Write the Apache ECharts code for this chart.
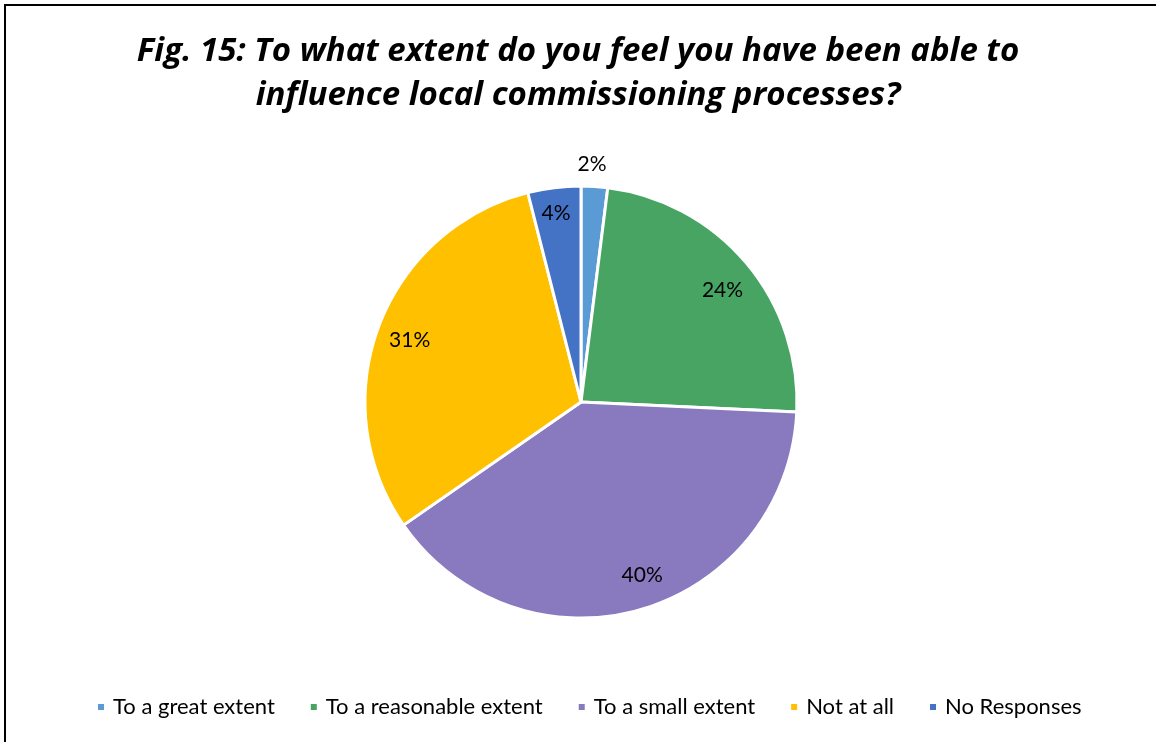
<!DOCTYPE html>
<html>
<head>
<meta charset="utf-8">
<script src="https://cdn.jsdelivr.net/npm/echarts@6/dist/echarts.min.js"></script>
<style>
  html, body { margin: 0; padding: 0; background: #fff; }
  #chart { width: 1156px; height: 742px; }
</style>
</head>
<body>
<div id="chart"></div>
<script>
// Survey responses, percent of respondents
const categories = ['To a great extent', 'To a reasonable extent', 'To a small extent', 'Not at all', 'No Responses'];
const shares = [2, 24, 40, 31, 4];
const sliceColors = ['#5B9BD5', '#48A463', '#8979BF', '#FFC000', '#4472C4'];

const FONT = 'Lato, "Open Sans", sans-serif';
const TITLE_FONT = '"Open Sans", Lato, sans-serif';
const CENTER = [581, 402];
const R = 216;
// small nudges for the percentage labels, in pixels
const LABEL_NUDGE = [[-4, 5], [0, 7], [10, -5], [2, 3], [-2, -5]];

const pieData = categories.map((name, i) => ({ name, value: shares[i], itemStyle: { color: sliceColors[i] } }));

// transparent overlay rings that only carry the percentage labels
function labelRing(radius, showIndex) {
  return {
    type: 'pie',
    center: CENTER,
    radius,
    startAngle: 90,
    clockwise: true,
    silent: true,
    legendHoverLink: false,
    emphasis: { disabled: true },
    itemStyle: { color: 'rgba(0,0,0,0)', borderWidth: 0 },
    labelLine: { show: false },
    data: categories.map((name, i) => ({
      name,
      value: shares[i],
      label: {
        show: showIndex(i),
        position: 'inside',
        formatter: '{c}%',
        color: '#000',
        fontFamily: FONT,
        fontSize: 21,
        offset: LABEL_NUDGE[i]
      }
    }))
  };
}

const chart = echarts.init(document.getElementById('chart'), null, { renderer: 'canvas' });
chart.setOption({
  backgroundColor: '#fff',
  animation: false,
  title: {
    text: 'Fig. 15: To what extent do you feel you have been able to\ninfluence local commissioning processes?',
    left: 'center',
    top: 25,
    textStyle: {
      fontFamily: TITLE_FONT,
      fontSize: 33,
      fontWeight: 'bold',
      fontStyle: 'italic',
      color: '#000',
      lineHeight: 44
    }
  },
  legend: {
    bottom: 19,
    left: 91,
    itemWidth: 8,
    itemHeight: 8,
    itemGap: 34,
    icon: 'rect',
    textStyle: { fontFamily: FONT, fontSize: 22, color: '#000', padding: [0, 0, 0, 3] },
    data: categories
  },
  graphic: [{
    type: 'rect',
    shape: { x: 5, y: 5, width: 1200, height: 800 },
    style: { fill: 'none', stroke: '#000', lineWidth: 2 },
    silent: true,
    z: 100
  }],
  series: [
    {
      type: 'pie',
      center: CENTER,
      radius: R,
      startAngle: 90,
      clockwise: true,
      label: { show: false },
      labelLine: { show: false },
      itemStyle: { borderColor: '#fff', borderWidth: 3 },
      emphasis: { disabled: true },
      data: pieData
    },
    labelRing([148, 216], i => i !== 0),
    labelRing([228, 252], i => i === 0)
  ]
});
</script>
</body>
</html>
